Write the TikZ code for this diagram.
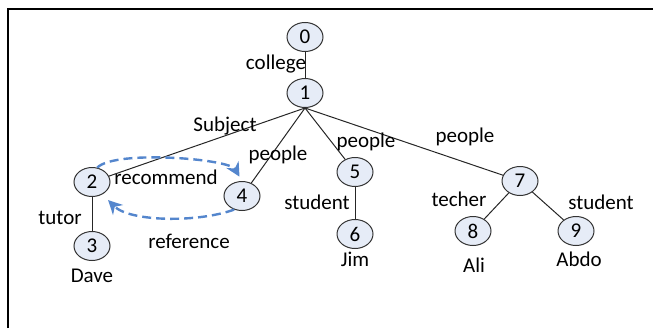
\documentclass[tikz,border=0pt]{standalone}
\usepackage{fontspec}
\setmainfont{Carlito}
\usetikzlibrary{shapes.geometric,arrows.meta}
\definecolor{nodefill}{RGB}{230,236,247}
\definecolor{linkblue}{RGB}{84,134,205}
\tikzset{
  vertex/.style={ellipse, draw=black!80, fill=nodefill, line width=0.5pt,
    minimum width=18pt, minimum height=14.5pt, inner sep=0pt,
    font=\fontsize{10.5}{12}\selectfont},
  edgelabel/.style={inner sep=0pt, font=\fontsize{10.5}{12}\selectfont},
  treeline/.style={line width=0.5pt, black!85},
  crosslink/.style={linkblue, line width=1.2pt, dash pattern=on 4.5pt off 2.5pt,
    -{Stealth[length=7pt,width=7pt]}}
}

\begin{document}
\begin{tikzpicture}[x=0.5pt,y=0.5pt]
\useasboundingbox (0,0) rectangle (653,328);
\draw[line width=1pt] (8,0) -- (8,319.5) -- (653,319.5);

% vertices
\node[vertex] (n0) at (305,291) {0};
\node[vertex] (n1) at (305,235) {1};
\node[vertex] (n2) at (92,146) {2};
\node[vertex] (n3) at (92,82) {3};
\node[vertex] (n4) at (242,132) {4};
\node[vertex] (n5) at (355,156) {5};
\node[vertex] (n6) at (355,94) {6};
\node[vertex] (n7) at (520,147) {7};
\node[vertex] (n8) at (473,97) {8};
\node[vertex] (n9) at (576,97) {9};

% tree edges
\draw[treeline] (n0) -- (n1);
\draw[treeline] (n1.south) -- (n2);
\draw[treeline] (n1.south) -- (n4);
\draw[treeline] (n1.south) -- (n5);
\draw[treeline] (n1.south) -- (n7);
\draw[treeline] (n2) -- (n3);
\draw[treeline] (n5) -- (n6);
\draw[treeline] (n7) -- (n8);
\draw[treeline] (n7) -- (n9);

% edge labels
\node[edgelabel] (lcollege) at (276,264) {college};
\node[edgelabel] (lsubject) at (225,202) {Subject};
\node[edgelabel] (lpeople4) at (278,173) {people};
\node[edgelabel] (lpeople5) at (366,186) {people};
\node[edgelabel] (lpeople7) at (465,191) {people};
\node[edgelabel] (ltutor) at (60,110) {tutor};
\node[edgelabel] (lstudent5) at (317,126) {student};
\node[edgelabel] (ltecher) at (459,129) {techer};
\node[edgelabel] (lstudent9) at (601,126) {student};

% names
\node[edgelabel] (ndave) at (92,52) {Dave};
\node[edgelabel] (njim) at (355,69) {Jim};
\node[edgelabel] (nali) at (474,63) {Ali};
\node[edgelabel] (nabdo) at (579,69) {Abdo};

% cross links
\draw[crosslink, shorten >=2.5pt] (n2.70) to[out=45, in=120, looseness=0.45] (n4.north);
\draw[crosslink, shorten >=4pt] (n4.240) to[out=200, in=-45, looseness=0.75] (n2.-50);
\node[edgelabel] (lrecommend) at (166,151) {recommend};
\node[edgelabel] (lreference) at (189,87) {reference};
\end{tikzpicture}
\end{document}
